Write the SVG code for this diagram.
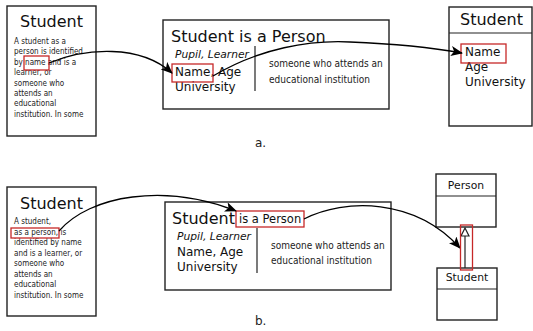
<svg xmlns="http://www.w3.org/2000/svg" width="533" height="331" viewBox="0 0 533 331">
  <defs>
    <marker id="arrow" viewBox="0 0 12 10" refX="11" refY="5" markerWidth="12" markerHeight="10" markerUnits="userSpaceOnUse" orient="auto">
      <path d="M0,0 L12,5 L0,10 L3,5 z" fill="#000"/>
    </marker>
    <style>
      .box { fill: #fff; stroke: #222; stroke-width: 1.4; }
      .line { fill: none; stroke: #222; stroke-width: 1.2; }
      .hl { fill: none; stroke: #c62828; stroke-width: 1.3; }
      .conn { fill: none; stroke: #000; stroke-width: 1.3; marker-end: url(#arrow); }
      .title { font-family: "DejaVu Sans", sans-serif; font-size: 16px; fill: #111; }
      .body { font-family: "DejaVu Sans Condensed", "DejaVu Sans", sans-serif; font-size: 8px; fill: #222; }
      .def { font-family: "DejaVu Sans Condensed", "DejaVu Sans", sans-serif; font-size: 10px; fill: #222; }
      .attr { font-family: "DejaVu Sans", sans-serif; font-size: 12px; fill: #111; }
      .syn { font-family: "DejaVu Sans", sans-serif; font-size: 10.7px; font-style: italic; fill: #111; }
      .uml { font-family: "DejaVu Sans", sans-serif; font-size: 10.8px; fill: #111; }
      .cap { font-family: "DejaVu Sans", sans-serif; font-size: 12px; fill: #222; }
    </style>
  </defs>

  <!-- a. -->
  <g id="a-text">
    <rect class="box" x="7" y="6" width="89" height="130"/>
    <text class="title" x="51.5" y="27" text-anchor="middle">Student</text>
    <text class="body" x="14" y="44">A student as a</text>
    <text class="body" x="14" y="54.4">person is identified</text>
    <text class="body" x="14" y="64.8">by name and is a</text>
    <text class="body" x="14" y="75.2">learner, or</text>
    <text class="body" x="14" y="85.6">someone who</text>
    <text class="body" x="14" y="96">attends an</text>
    <text class="body" x="14" y="106.4">educational</text>
    <text class="body" x="14" y="116.8">institution. In some</text>
    <rect class="hl" x="24" y="56" width="25" height="14"/>
  </g>

  <g id="a-concept">
    <rect class="box" x="163" y="20" width="226" height="89"/>
    <text class="title" x="171" y="42">Student is a Person</text>
    <text class="syn" x="175" y="58">Pupil, Learner</text>
    <text class="attr" x="175" y="75.5">Name, Age</text>
    <text class="attr" x="175" y="90.5">University</text>
    <line class="line" x1="255" y1="46" x2="255" y2="91"/>
    <text class="def" x="269" y="67">someone who attends an</text>
    <text class="def" x="269" y="83">educational institution</text>
    <rect class="hl" x="172" y="64" width="41" height="18"/>
  </g>

  <g id="a-class">
    <rect class="box" x="449" y="7" width="83" height="119"/>
    <line class="line" x1="449" y1="33" x2="532" y2="33"/>
    <text class="title" x="460" y="25">Student</text>
    <text class="attr" x="465" y="56">Name</text>
    <text class="attr" x="465" y="71">Age</text>
    <text class="attr" x="465" y="86">University</text>
    <rect class="hl" x="461" y="44" width="45" height="19"/>
  </g>

  <text class="cap" x="255" y="147">a.</text>

  <!-- b. -->
  <g id="b-text">
    <rect class="box" x="7" y="187" width="89" height="129"/>
    <text class="title" x="51.5" y="209" text-anchor="middle">Student</text>
    <text class="body" x="14" y="224">A student,</text>
    <text class="body" x="14" y="234.5">as a person, is</text>
    <text class="body" x="14" y="245">identified by name</text>
    <text class="body" x="14" y="255.5">and is a learner, or</text>
    <text class="body" x="14" y="266">someone who</text>
    <text class="body" x="14" y="276.5">attends an</text>
    <text class="body" x="14" y="287">educational</text>
    <text class="body" x="14" y="297.5">institution. In some</text>
    <rect class="hl" x="11" y="228" width="48" height="10"/>
  </g>

  <g id="b-concept">
    <rect class="box" x="165" y="202" width="226" height="88"/>
    <text class="title" x="172" y="224">Student</text>
    <text class="attr" x="239" y="223" style="font-size:11.5px">is a Person</text>
    <text class="syn" x="177" y="240">Pupil, Learner</text>
    <text class="attr" x="177" y="256">Name, Age</text>
    <text class="attr" x="177" y="271">University</text>
    <line class="line" x1="257" y1="228" x2="257" y2="273"/>
    <text class="def" x="271" y="249">someone who attends an</text>
    <text class="def" x="271" y="264">educational institution</text>
    <rect class="hl" x="236" y="211" width="68" height="16"/>
  </g>

  <g id="b-person">
    <rect class="box" x="436" y="174" width="60" height="53"/>
    <line class="line" x1="436" y1="196" x2="496" y2="196"/>
    <text class="uml" x="466" y="189" text-anchor="middle">Person</text>
  </g>

  <g id="b-student">
    <rect class="box" x="437" y="268" width="60" height="52"/>
    <line class="line" x1="437" y1="289" x2="497" y2="289"/>
    <text class="uml" x="467" y="281" text-anchor="middle">Student</text>
  </g>

  <text class="cap" x="255" y="325">b.</text>

  <!-- connectors -->
  <g id="connectors">
    <path class="conn" d="M49,63 C85,48 140,44 172,73"/>
    <path class="conn" d="M213,76 C260,48 310,40 350,42 C400,44 440,49 462,53"/>
    <path class="conn" d="M59,231 C90,195 165,183 236,211"/>
    <path class="conn" d="M304,219 C345,198 415,198 460,248"/>
    <!-- generalization: Student to Person -->
    <line class="line" x1="465" y1="235" x2="465" y2="268"/>
    <path d="M465,228 L469,236 L461,236 z" fill="#fff" stroke="#222" stroke-width="1.2"/>
    <rect class="hl" x="460.5" y="225" width="12" height="45"/>
  </g>
</svg>
